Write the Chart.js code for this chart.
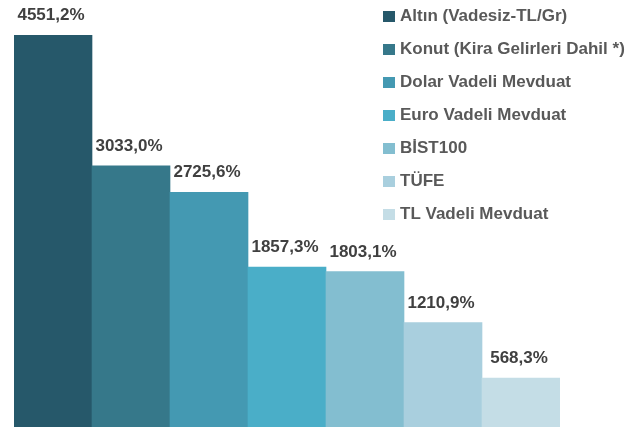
<!DOCTYPE html>
<html>
<head>
<meta charset="utf-8">
<script src="https://cdn.jsdelivr.net/npm/chart.js@4"></script>
<style>
  html, body { margin: 0; padding: 0; background: #fff; }
  #wrap { width: 630px; height: 431px; position: relative; }
</style>
</head>
<body>
<div id="wrap"><canvas id="returnsChart"></canvas></div>
<script>
const categories = [
  'Altın (Vadesiz-TL/Gr)',
  'Konut (Kira Gelirleri Dahil *)',
  'Dolar Vadeli Mevduat',
  'Euro Vadeli Mevduat',
  'BİST100',
  'TÜFE',
  'TL Vadeli Mevduat',
];
const returns = [4551.2, 3033.0, 2725.6, 1857.3, 1803.1, 1210.9, 568.3];
const barColors = ['#26586a', '#36788a', '#4499b2', '#4aaec8', '#83bed0', '#a9cfde', '#c4dde6'];

const fontFamily = '"Liberation Sans", Arial, sans-serif';

function formatPercent(v) {
  return v.toFixed(1).replace('.', ',') + '%';
}

// value labels above each bar
const valueLabels = {
  id: 'valueLabels',
  afterDatasetsDraw(chart) {
    const { ctx } = chart;
    const meta = chart.getDatasetMeta(0);
    ctx.save();
    ctx.font = 'bold 17px ' + fontFamily;
    ctx.fillStyle = '#404040';
    ctx.textAlign = 'center';
    ctx.textBaseline = 'alphabetic';
    meta.data.forEach((bar, i) => {
      ctx.fillText(formatPercent(returns[i]), bar.x - 2, bar.y - 15);
    });
    ctx.restore();
  },
};

// legend drawn over the top-right corner
const sideLegend = {
  id: 'sideLegend',
  afterDraw(chart) {
    const { ctx } = chart;
    ctx.save();
    ctx.font = 'bold 17px ' + fontFamily;
    ctx.textBaseline = 'middle';
    categories.forEach((name, i) => {
      const y = 16 + i * 33;
      ctx.fillStyle = barColors[i];
      ctx.fillRect(383, y - 5, 12, 11);
      ctx.fillStyle = '#595959';
      ctx.fillText(name, 400, y);
    });
    ctx.restore();
  },
};

const ctx = document.getElementById('returnsChart');
const returnsChart = new Chart(ctx, {
  type: 'bar',
  data: {
    labels: categories,
    datasets: [{
      data: returns,
      backgroundColor: barColors,
      borderWidth: 0,
      categoryPercentage: 1,
      barPercentage: 1,
    }],
  },
  options: {
    responsive: true,
    maintainAspectRatio: false,
    animation: false,
    layout: { padding: { left: 14, right: 70, top: 35, bottom: 4 } },
    plugins: {
      legend: { display: false },
      tooltip: { enabled: false },
    },
    scales: {
      x: { display: false },
      y: { display: false, min: 0, max: 4551.2 },
    },
  },
  plugins: [valueLabels, sideLegend],
});
</script>
</body>
</html>
